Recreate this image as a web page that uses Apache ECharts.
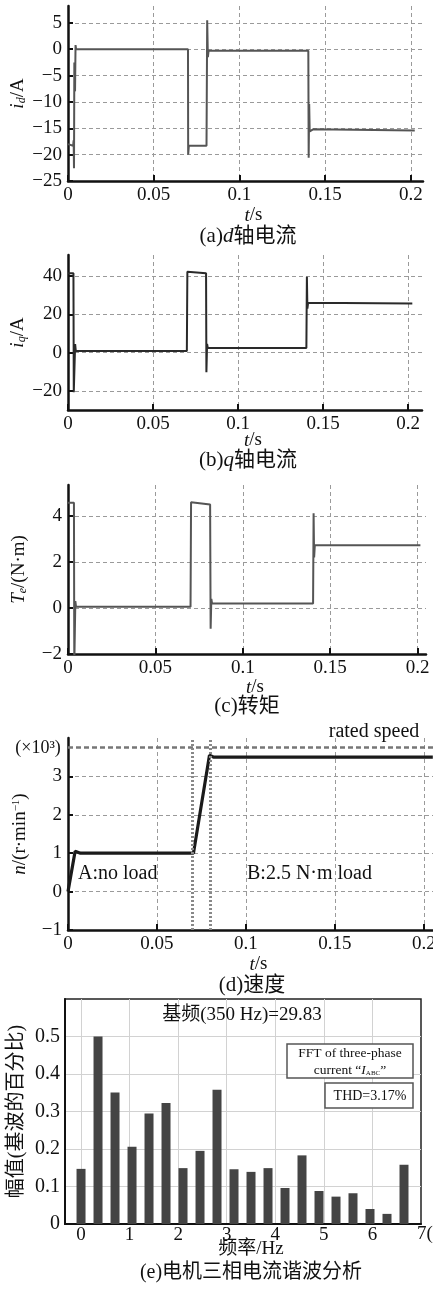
<!DOCTYPE html>
<html><head><meta charset="utf-8">
<script src="https://cdn.jsdelivr.net/npm/echarts@6/dist/echarts.min.js"></script>
<style>html,body{margin:0;padding:0;background:#fff}#c{width:433px;height:1291px}</style>
</head><body><div id="c"></div>
<script>
// ---------- data ----------
// (a) d-axis current
const timeA = [0, 0.003, 0.0033, 0.0035, 0.0037, 0.0041, 0.0044, 0.0047, 0.07, 0.0701, 0.0705, 0.0808, 0.0812, 0.0816, 0.082, 0.1402, 0.1404, 0.1407, 0.141, 0.143, 0.2023];
const idA   = [-18, -18.3, -17.3, -22.6, -2.5, -8, 0.8, 0, 0, -20, -18.3, -18.3, 5.5, -1.5, -0.3, -0.3, -20.6, -10.4, -15.6, -15.2, -15.4];
// (b) q-axis current
const timeB = [0, 0.0032, 0.0034, 0.0042, 0.0046, 0.0699, 0.0702, 0.0812, 0.0814, 0.0818, 0.0822, 0.1402, 0.1405, 0.1408, 0.1412, 0.2025];
const iqB   = [41.4, 41.4, -20.7, 4.5, 0.8, 0.8, 42.2, 41.4, -10.3, 4.5, 2.4, 2.4, 39.6, 23, 26, 25.7];
// (c) torque
const timeC = [0, 0.0034, 0.0036, 0.0042, 0.0046, 0.0701, 0.0704, 0.0813, 0.0816, 0.082, 0.0824, 0.1402, 0.1405, 0.1408, 0.1412, 0.2016];
const teC   = [4.58, 4.58, -2.5, 0.3, 0.05, 0.05, 4.6, 4.5, -0.9, 0.4, 0.2, 0.2, 4.12, 2.2, 2.73, 2.73];
// (d) speed (x10^3 r/min)
const timeD = [0, 0.004, 0.007, 0.0705, 0.0795, 0.082, 0.14, 0.1405, 0.141, 0.205];
const speedD = [0, 1.05, 1.0, 1.0, 3.55, 3.5, 3.5, 3.46, 3.5, 3.5];
const ratedSpeed = 3.75;
const stageLines = [0.0704, 0.0794];
// (e) harmonic spectrum
const freqE = [0, 0.35, 0.7, 1.05, 1.4, 1.75, 2.1, 2.45, 2.8, 3.15, 3.5, 3.85, 4.2, 4.55, 4.9, 5.25, 5.6, 5.95, 6.3, 6.65];
const ampE  = [0.147, 0.5, 0.351, 0.206, 0.295, 0.323, 0.149, 0.195, 0.358, 0.146, 0.139, 0.149, 0.096, 0.183, 0.088, 0.073, 0.082, 0.04, 0.027, 0.158];

// ---------- style ----------
const FONT = '"Liberation Serif", "Times New Roman", "Noto Sans CJK SC", serif';
const CJK = '"Liberation Serif", "Noto Sans CJK SC", serif';
const fmtNum = v => (v < 0 ? '\u2212' + String(+(-v).toFixed(4)) : String(+v.toFixed(4)));

function rich(size) {
  return {
    n: {fontFamily: FONT, fontSize: size, color: '#111'},
    i: {fontFamily: FONT, fontSize: size, color: '#111', fontStyle: 'italic'},
    s: {fontFamily: FONT, fontSize: Math.round(size * 0.62), color: '#111', fontStyle: 'italic', verticalAlign: 'bottom', lineHeight: size},
    sup: {fontFamily: FONT, fontSize: Math.round(size * 0.6), color: '#111', verticalAlign: 'top', lineHeight: size}
  };
}

function xAx(g, max, gap) {
  return {
    type: 'value', gridIndex: g, min: 0, max: max, minInterval: 0.05, maxInterval: 0.05,
    axisLine: {show: true, onZero: false, lineStyle: {color: '#111', width: 2.5}},
    axisTick: {show: true, inside: true, length: 6, lineStyle: {color: '#111', width: 2}},
    axisLabel: {fontFamily: FONT, fontSize: 19, color: '#111', margin: 5, showMaxLabel: false, formatter: fmtNum},
    splitLine: {show: true, showMinLine: false, showMaxLine: false, lineStyle: {color: '#9a9a9a', type: [4, 3], width: 1}},
    name: '{i|t}{n|/s}', nameLocation: 'middle', nameGap: gap, nameMoveOverlap: false,
    nameTextStyle: {fontFamily: FONT, fontSize: 19, rich: rich(19), padding: [0, 0, 0, 16]}
  };
}
function yAx(g, min, max, step, showMin, name, gap) {
  return {
    type: 'value', gridIndex: g, min: min, max: max, minInterval: step, maxInterval: step,
    axisLine: {show: true, onZero: false, lineStyle: {color: '#111', width: 2.5}},
    axisTick: {show: true, inside: true, length: 5, lineStyle: {color: '#111', width: 2}},
    axisLabel: {fontFamily: FONT, fontSize: 19, color: '#111', margin: 6, showMaxLabel: false, showMinLabel: showMin, formatter: fmtNum},
    splitLine: {show: true, showMinLine: false, showMaxLine: false, lineStyle: {color: '#9a9a9a', type: [4, 3], width: 1}},
    name: name, nameLocation: 'middle', nameGap: gap, nameMoveOverlap: false,
    nameTextStyle: {fontFamily: FONT, fontSize: 19, rich: rich(19)}
  };
}
const zip = (a, b) => a.map((v, i) => [v, b[i]]);
function lineS(g, xs, ys, color, width) {
  return {type: 'line', xAxisIndex: g, yAxisIndex: g, data: zip(xs, ys), showSymbol: false, symbol: 'none',
    lineStyle: {color: color, width: width}, animation: false, clip: true};
}

const grids = [
  {left: 68, top: 6, width: 355, height: 175},
  {left: 68, top: 255, width: 354, height: 155},
  {left: 68, top: 485, width: 358, height: 169},
  {left: 68, top: 738, width: 365, height: 192},
  {left: 65, top: 999, width: 356, height: 225, show: true, borderColor: '#222', borderWidth: 1.5, backgroundColor: '#fff'}
].map(g => Object.assign({containLabel: false, outerBoundsMode: 'none'}, g));

const speedSeries = lineS(3, timeD, speedD, '#1a1a1a', 3.2);
speedSeries.markLine = {
  silent: true, symbol: 'none', label: {show: false}, animation: false,
  data: [
    {yAxis: ratedSpeed, lineStyle: {color: '#777', type: [5, 3], width: 2.5}},
    {xAxis: stageLines[0], lineStyle: {color: '#888', type: [2, 2], width: 3}},
    {xAxis: stageLines[1], lineStyle: {color: '#888', type: [2, 2], width: 3}}
  ]
};

function txt(x, y, text, size, opts) {
  return {type: 'text', x: x, y: y, silent: true, z: 100,
    style: Object.assign({text: text, fontFamily: CJK, fontSize: size, fill: '#111', align: 'center', verticalAlign: 'middle'}, opts || {})};
}

const option = {
  animation: false,
  backgroundColor: '#fff',
  grid: grids,
  xAxis: [
    xAx(0, 0.2071, 25),
    xAx(1, 0.2082, 21),
    xAx(2, 0.2048, 24),
    xAx(3, 0.2051, 25),
    {
      type: 'value', gridIndex: 4, min: -0.33, max: 7, minInterval: 1, maxInterval: 1,
      axisLine: {show: true, onZero: false, lineStyle: {color: '#111', width: 2}},
      axisTick: {show: false},
      axisLabel: {fontFamily: FONT, fontSize: 19, color: '#111', margin: 2, showMinLabel: false, showMaxLabel: false, formatter: fmtNum},
      splitLine: {show: true, showMinLine: false, showMaxLine: false, lineStyle: {color: '#d2d2d2', width: 1}},
      name: '频率/Hz', nameLocation: 'middle', nameGap: 16, nameMoveOverlap: false,
      nameTextStyle: {fontFamily: CJK, fontSize: 19, color: '#111', padding: [0, 0, 0, 16]}
    }
  ],
  yAxis: [
    yAx(0, -25, 8.2, 5, true, '{i|i}{s|d}{n|/A}', 40),
    yAx(1, -30, 51, 20, false, '{i|i}{s|q}{n|/A}', 40),
    yAx(2, -2, 5.35, 2, true, '{i|T}{s|e}{n|/(N·m)}', 39),
    yAx(3, -1, 4, 1, true, '{i|n}{n|/(r·min}{sup|−1}{n|)}', 38),
    {
      type: 'value', gridIndex: 4, min: 0, max: 0.6, minInterval: 0.1, maxInterval: 0.1,
      axisLine: {show: true, onZero: false, lineStyle: {color: '#111', width: 2}},
      axisTick: {show: false},
      axisLabel: {fontFamily: FONT, fontSize: 20, color: '#111', margin: 5, showMaxLabel: false, formatter: fmtNum},
      splitLine: {show: true, showMinLine: false, showMaxLine: false, lineStyle: {color: '#d2d2d2', width: 1}},
      name: '幅值(基波的百分比)', nameLocation: 'middle', nameGap: 38, nameMoveOverlap: false,
      nameTextStyle: {fontFamily: CJK, fontSize: 20, color: '#111'}
    }
  ],
  series: [
    lineS(0, timeA, idA, '#555', 2),
    lineS(1, timeB, iqB, '#2a2a2a', 2),
    lineS(2, timeC, teC, '#555', 2),
    speedSeries,
    {type: 'bar', xAxisIndex: 4, yAxisIndex: 4, data: zip(freqE, ampE), barWidth: 9,
      itemStyle: {color: '#444'}, animation: false}
  ],
  graphic: [
    txt(248, 236, '(a){i|d}轴电流', 21),
    txt(248, 460, '(b){i|q}轴电流', 21),
    txt(247, 706, '(c)转矩', 21),
    txt(252, 985, '(d)速度', 21),
    txt(251, 1273, '(e)电机三相电流谐波分析', 20),
    // (d) annotations
    txt(38, 748, '(×10³)', 18),
    txt(78, 874, 'A:no load', 20, {align: 'left'}),
    txt(247, 874, 'B:2.5 N·m load', 20, {align: 'left'}),
    txt(374, 732, 'rated speed', 20),
    // (e) annotations
    txt(417, 1234, '7(', 19, {align: 'left'}),
    txt(242, 1015, '基频(350 Hz)=29.83', 19),
    {type: 'rect', shape: {x: 287, y: 1044, width: 126, height: 34}, z: 99, silent: true,
      style: {fill: '#fff', stroke: '#555', lineWidth: 1.5}},
    {type: 'rect', shape: {x: 325, y: 1083, width: 88, height: 25}, z: 99, silent: true,
      style: {fill: '#fff', stroke: '#555', lineWidth: 1.5}},
    txt(350, 1053, 'FFT of three-phase', 13.5),
    txt(350, 1070, 'current “{i|I}{s|ABC}”', 13.5),
    txt(370, 1096, 'THD=3.17%', 14)
  ]
};
// rich styles for graphic texts
option.graphic.forEach(g => {
  if (g.type === 'text') {
    const sz = g.style.fontSize;
    g.style.rich = {
      i: {fontFamily: FONT, fontSize: sz, fontStyle: 'italic', fill: '#111'},
      s: {fontFamily: FONT, fontSize: Math.round(sz * 0.55), fill: '#111', verticalAlign: 'bottom', lineHeight: sz}
    };
  }
});
const chart = echarts.init(document.getElementById('c'), null, {renderer: 'canvas'});
chart.setOption(option);
</script>
</body></html>
